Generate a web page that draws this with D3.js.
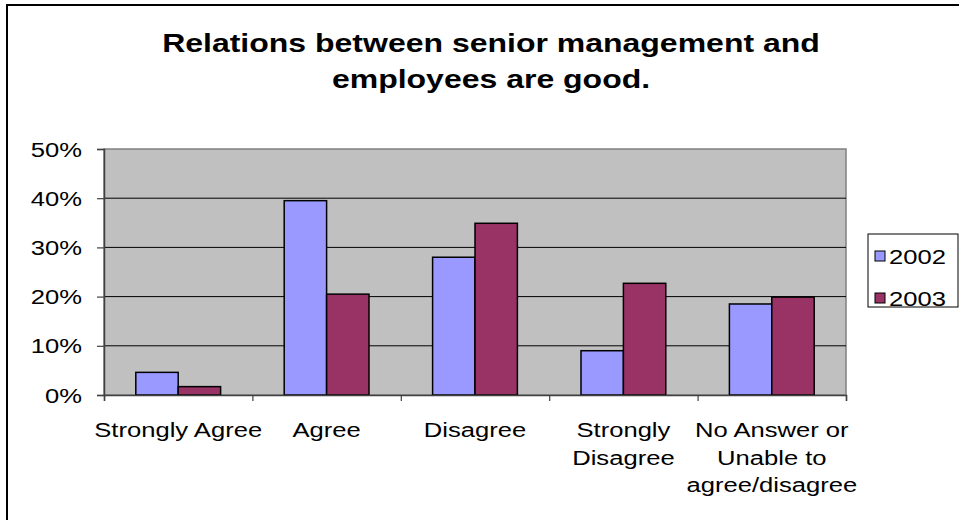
<!DOCTYPE html>
<html>
<head>
<meta charset="utf-8">
<script src="https://cdn.jsdelivr.net/npm/d3@7"></script>
<style>
  html, body { margin: 0; padding: 0; background: #ffffff; }
  svg { display: block; font-family: "Liberation Sans", Arial, sans-serif; }
</style>
</head>
<body>
<svg id="chart" width="959" height="520"></svg>
<script>
// Survey answers, share of respondents per year
const categories = ["Strongly Agree", "Agree", "Disagree", "Strongly Disagree", "No Answer or Unable to agree/disagree"];
const categoryLines = [["Strongly Agree"], ["Agree"], ["Disagree"], ["Strongly", "Disagree"], ["No Answer or", "Unable to", "agree/disagree"]];
const series = ["2002", "2003"];
const values2002 = [0.046, 0.395, 0.280, 0.090, 0.185];
const values2003 = [0.017, 0.205, 0.349, 0.227, 0.199];
const yTicks = [0, 0.1, 0.2, 0.3, 0.4, 0.5];
const titleLines = ["Relations between senior management and", "employees are good."];
const colors = { "2002": "#9999FF", "2003": "#993366" };

const SX = 1.22;       // horizontal stretch of the body lettering
const SX_TITLE = 1.28; // horizontal stretch of the title lettering
const svg = d3.select("#chart");

// outer chart frame (right and bottom edges run past the canvas)
svg.append("rect")
  .attr("x", 7).attr("y", 5).attr("width", 960).attr("height", 530)
  .attr("fill", "#fff").attr("stroke", "#000").attr("stroke-width", 2);

const plot = { left: 104, right: 846, top: 149, bottom: 395 };

const x = d3.scaleBand().domain(categories).range([plot.left, plot.right]).padding(0);
const xInner = d3.scaleBand().domain(series).range([0, x.bandwidth()]).paddingInner(0).paddingOuter(0.75);
const y = d3.scaleLinear().domain([0, 0.5]).range([plot.bottom, plot.top]);
const xEdges = d3.scaleLinear().domain([0, categories.length]).range([plot.left, plot.right]);

function stretchedText(parent, tx, ty, str, opts) {
  const g = parent.append("g").attr("transform", `translate(${tx},${ty}) scale(${opts.sx || SX},1)`);
  return g.append("text")
    .attr("text-anchor", opts.anchor || "middle")
    .attr("font-size", opts.size)
    .attr("font-weight", opts.weight || "normal")
    .attr("fill", "#000")
    .text(str);
}

// plot background
svg.append("rect")
  .attr("x", plot.left).attr("y", plot.top)
  .attr("width", plot.right - plot.left).attr("height", plot.bottom - plot.top)
  .attr("fill", "#C0C0C0").attr("stroke", "#808080").attr("stroke-width", 1.5);

// gridlines
svg.append("g").selectAll("line")
  .data(yTicks.filter(t => t > 0 && t < 0.5))
  .join("line")
  .attr("x1", plot.left).attr("x2", plot.right)
  .attr("y1", d => y(d)).attr("y2", d => y(d))
  .attr("stroke", "#000").attr("stroke-width", 1);

// bars
const rows = categories.map((c, i) => ({ cat: c, vals: [values2002[i], values2003[i]] }));
const groups = svg.append("g").selectAll("g")
  .data(rows).join("g")
  .attr("transform", d => `translate(${x(d.cat)},0)`);
groups.selectAll("rect")
  .data(d => d.vals.map((v, j) => ({ key: series[j], v })))
  .join("rect")
  .attr("x", d => xInner(d.key))
  .attr("width", xInner.bandwidth())
  .attr("y", d => y(d.v))
  .attr("height", d => y(0) - y(d.v))
  .attr("fill", d => colors[d.key])
  .attr("stroke", "#000").attr("stroke-width", 1.5);

// y axis
const yAxis = svg.append("g")
  .attr("transform", `translate(${plot.left},0)`)
  .call(d3.axisLeft(y).tickValues(yTicks).tickSize(7).tickFormat(""));
yAxis.select(".domain").attr("stroke", "#404040").attr("stroke-width", 1.5);
yAxis.selectAll(".tick line").attr("stroke", "#404040").attr("stroke-width", 1.2);
yTicks.forEach(t => {
  stretchedText(svg, 82, y(t) + 7.5, d3.format(".0%")(t), { size: 21, anchor: "end" });
});

// x axis
const xAxis = svg.append("g")
  .attr("transform", `translate(0,${plot.bottom})`)
  .call(d3.axisBottom(xEdges).ticks(categories.length).tickSize(6).tickFormat(""));
xAxis.select(".domain").attr("stroke", "#404040").attr("stroke-width", 1.5);
xAxis.selectAll(".tick line").attr("stroke", "#404040").attr("stroke-width", 1.2);
categoryLines.forEach((lines, i) => {
  const cx = x(categories[i]) + x.bandwidth() / 2;
  lines.forEach((ln, k) => {
    stretchedText(svg, cx, 437 + k * 27.5, ln, { size: 21 });
  });
});

// title
titleLines.forEach((ln, k) => {
  stretchedText(svg, 491, 52 + k * 36, ln, { size: 25, weight: "bold", sx: SX_TITLE });
});

// legend
const legend = svg.append("g");
legend.append("rect")
  .attr("x", 868).attr("y", 234).attr("width", 90).attr("height", 73)
  .attr("fill", "#fff").attr("stroke", "#000").attr("stroke-width", 1);
series.forEach((s, k) => {
  const cy = 256 + k * 42;
  legend.append("rect")
    .attr("x", 875).attr("y", cy - 5).attr("width", 10).attr("height", 10)
    .attr("fill", colors[s]).attr("stroke", "#000").attr("stroke-width", 1);
  stretchedText(legend, 889, cy + 7.5, s, { size: 21, anchor: "start" });
});
</script>
</body>
</html>
